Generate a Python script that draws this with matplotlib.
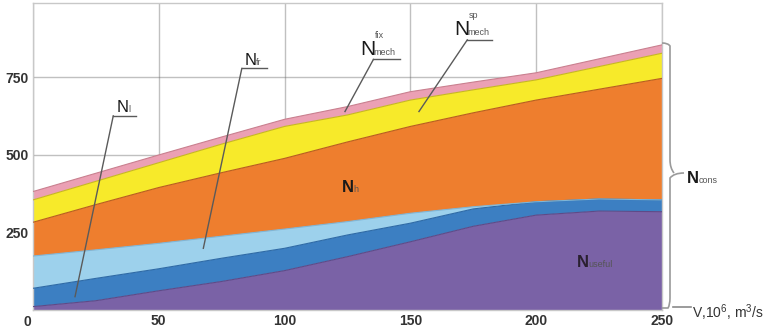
import matplotlib
matplotlib.use("Agg")
import matplotlib.pyplot as plt
from matplotlib.path import Path
from matplotlib.patches import PathPatch
import numpy as np

plt.rcParams['font.family'] = ['Liberation Sans', 'DejaVu Sans']
plt.rcParams['mathtext.default'] = 'regular'

# Flow rate V, 10^6 m^3/s
V = [0, 25, 50, 75, 100, 125, 150, 175, 200, 225, 250]
# Upper boundaries of the stacked power components (cumulative)
N_useful = [11, 30, 62, 92, 127, 172, 220, 270, 306, 319, 317]
N_l_top = [70, 102, 133, 167, 199, 242, 280, 326, 349, 358, 355]
N_fr_top = [174, 194, 215, 238, 261, 285, 312, 333, 349, 358, 355]
N_h_top = [283, 340, 395, 443, 489, 542, 592, 636, 677, 712, 747]
N_sp_top = [355, 415, 475, 535, 592, 629, 677, 710, 742, 785, 828]
N_fix_top = [382, 441, 500, 558, 615, 656, 704, 735, 765, 810, 855]

x_ticks = [0, 50, 100, 150, 200, 250]
y_ticks = [0, 250, 500, 750]

colors = ['#7A62A6', '#3C7FC2', '#9DD1EC', '#EE7E2E', '#F7EA2A', '#EBA0B4']
edges = ['#5E4A88', '#2E6AA6', '#7FB5D6', '#B85E1E', '#C8B820', '#C9808F']

fig = plt.figure(figsize=(7.68, 3.29), dpi=100)
ax = fig.add_axes([33/768, 1-310/329, 629/768, 307/329])

xs = np.array(V, dtype=float)
layers = [np.zeros_like(xs), N_useful, N_l_top, N_fr_top, N_h_top, N_sp_top, N_fix_top]
for i in range(6):
    lo = np.array(layers[i], dtype=float)
    hi = np.array(layers[i + 1], dtype=float)
    ax.fill_between(xs, lo, hi, facecolor=colors[i], edgecolor='none', zorder=2)
    ax.plot(xs, hi, color=edges[i], lw=0.8, zorder=3)

ax.set_xlim(0, 250)
ax.set_ylim(0, 990)
ax.set_xticks(x_ticks)
ax.set_yticks(y_ticks[1:])
ax.set_xticklabels([''] + [str(t) for t in x_ticks[1:]])
ax.set_yticklabels([str(t) for t in y_ticks[1:]])
ax.tick_params(length=0, labelsize=10, colors='#333333', pad=3)
for lab in ax.get_xticklabels() + ax.get_yticklabels():
    lab.set_fontweight('bold')
ax.grid(True, color='#6a6a6a', alpha=0.42, lw=1.0, zorder=4)
for s in ax.spines.values():
    s.set_color('#c8c8c8')
    s.set_linewidth(1.0)
ax.text(-0.5, -15, str(y_ticks[0]), ha='right', va='top', fontsize=10, fontweight='bold',
        color='#333333')

lc = '#5a5a5a'
def label(x, y, main, sub=None, sup=None, size=12, bold=False, subsize=6.5, dx=4.8,
          color='#1a1a1a'):
    ax.text(x, y, main, ha='left', va='baseline', fontsize=size,
            fontweight='bold' if bold else 'normal', color=color, zorder=6)
    if sub:
        ax.text(x + dx, y, sub, ha='left', va='baseline', fontsize=subsize,
                color='#555555', zorder=6)
    if sup:
        ax.text(x + dx + 0.5, y + 55, sup, ha='left', va='baseline', fontsize=subsize,
                color='#555555', zorder=6)

# leader lines
ax.plot([31.9, 40.9], [626, 626], color=lc, lw=1, zorder=5)
ax.plot([31.9, 16.7], [626, 43], color=lc, lw=1, zorder=5)
ax.plot([83.0, 92.9], [779, 779], color=lc, lw=1, zorder=5)
ax.plot([83.0, 67.7], [779, 199], color=lc, lw=1, zorder=5)
ax.plot([135.3, 145.9], [808, 808], color=lc, lw=1, zorder=5, clip_on=False)
ax.plot([135.3, 124.0], [808, 640], color=lc, lw=1, zorder=5)
ax.plot([172.6, 182.6], [871, 871], color=lc, lw=1, zorder=5, clip_on=False)
ax.plot([172.6, 153.4], [871, 640], color=lc, lw=1, zorder=5)

label(33.4, 638, 'N', sub='l', size=12, dx=4.4)
label(84.3, 790, 'N', sub='fr', size=12, dx=4.4)
label(130.0, 822, 'N', sub='mech', sup='fix', size=15, dx=5.4)
label(167.3, 887, 'N', sub='mech', sup='sp', size=15, dx=5.4)
label(122.7, 380, 'N', sub='h', size=12, bold=True, dx=4.8)
label(216.0, 139, 'N', sub='useful', size=12, bold=True, dx=4.6, color='#2a2030')
label(259.8, 410, 'N', sub='cons', size=12, bold=True, dx=4.6)

# brace on the right (in pixel coordinates of the figure)
H = 329
def P(px, py):
    return (px, H - py)
verts = [P(662, 43), P(668, 43), P(670, 46), P(670, 52),
         P(670, 160), P(670, 168), P(674, 173), P(684, 173),
         P(674, 173), P(670, 178), P(670, 186),
         P(670, 298), P(670, 305), P(668, 308), P(662, 308)]
codes = [Path.MOVETO, Path.CURVE3, Path.CURVE3, Path.LINETO,
         Path.LINETO, Path.CURVE3, Path.CURVE3, Path.MOVETO,
         Path.CURVE3, Path.CURVE3, Path.LINETO,
         Path.LINETO, Path.CURVE3, Path.CURVE3, Path.LINETO]
brace = PathPatch(Path(verts, codes), facecolor='none', edgecolor='#9a9a9a', lw=1.2,
                  transform=None, clip_on=False)
fig.add_artist(brace)

# axis arrow and label
fig.add_artist(plt.Line2D([673/768, 691/768], [1-307/329, 1-307/329],
                          color='#8a8a8a', lw=1.2))
fig.text(692/768, 1-318/329, r'V,10$^{6}$, m$^{3}$/s', fontsize=10,
         color='#333333', ha='left', va='baseline')

fig.savefig('out.png', dpi=100)
